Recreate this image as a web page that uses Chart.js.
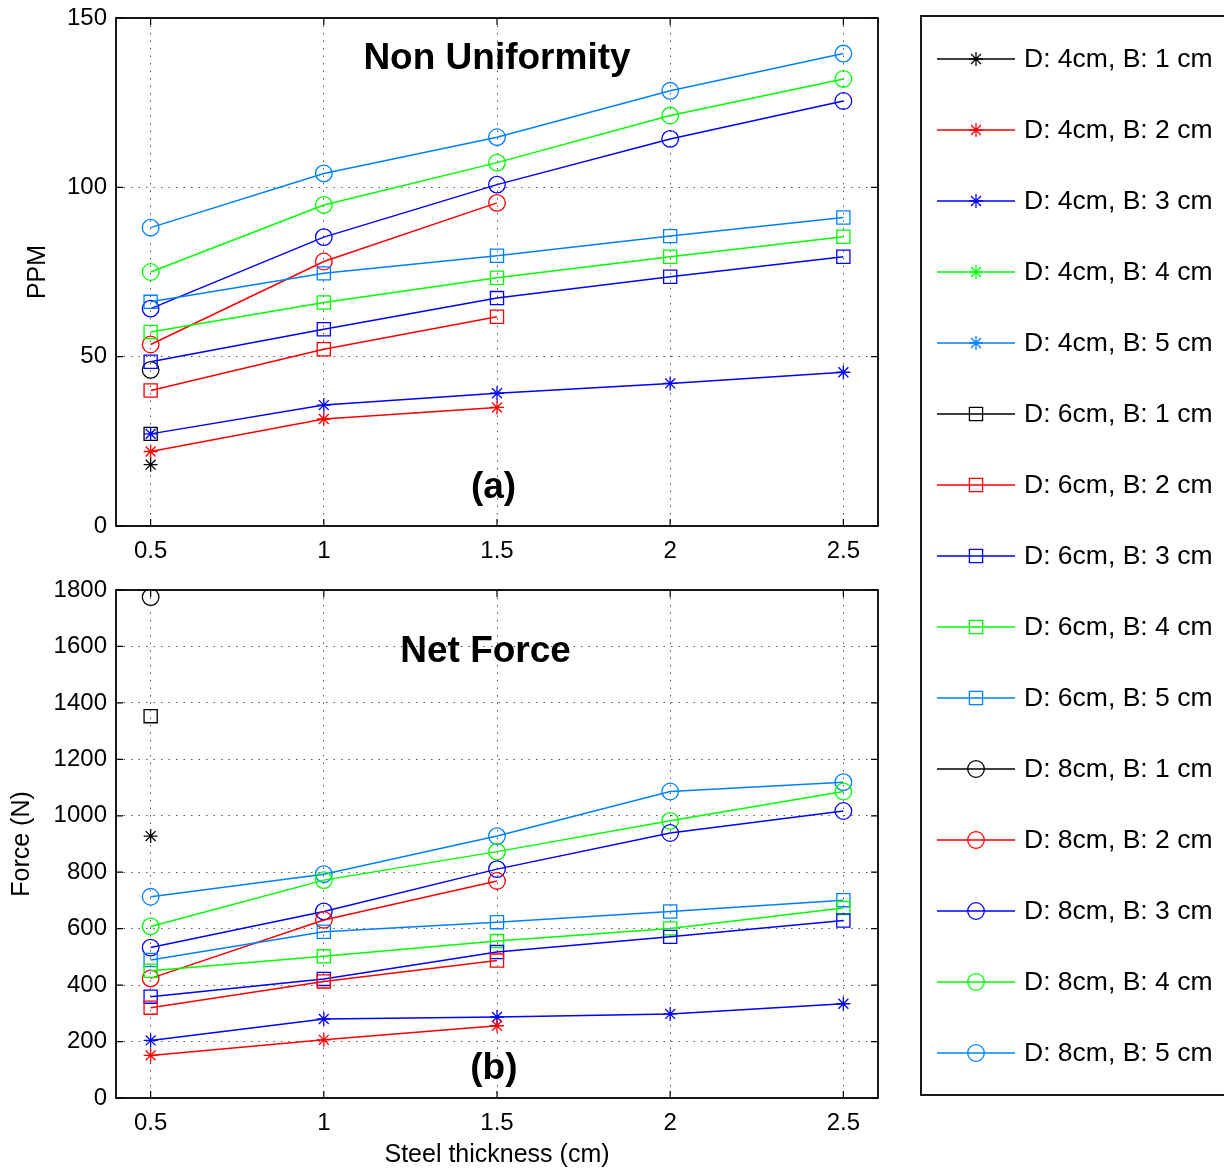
<!DOCTYPE html>
<html>
<head>
<meta charset="utf-8">
<script src="https://cdn.jsdelivr.net/npm/chart.js@4.4.1/dist/chart.umd.min.js"></script>
<style>
  body { margin: 0; background: #fff; width: 1224px; height: 1171px; overflow: hidden; position: relative; }
  canvas { position: absolute; }
</style>
</head>
<body>
<canvas id="ppmChart" width="900" height="570" style="left:0;top:0"></canvas>
<canvas id="forceChart" width="900" height="601" style="left:0;top:570px"></canvas>
<canvas id="legend" width="304" height="1171" style="left:920px;top:0"></canvas>
<script>
// Espesor del acero (cm)
const thickness = [0.5, 1, 1.5, 2, 2.5];

const seriesNames = [
    'D: 4cm, B: 1 cm', 'D: 4cm, B: 2 cm', 'D: 4cm, B: 3 cm', 'D: 4cm, B: 4 cm', 'D: 4cm, B: 5 cm',
    'D: 6cm, B: 1 cm', 'D: 6cm, B: 2 cm', 'D: 6cm, B: 3 cm', 'D: 6cm, B: 4 cm', 'D: 6cm, B: 5 cm',
    'D: 8cm, B: 1 cm', 'D: 8cm, B: 2 cm', 'D: 8cm, B: 3 cm', 'D: 8cm, B: 4 cm', 'D: 8cm, B: 5 cm'
];

// (a) Non uniformity, PPM
const ppmD4B1 = [18.1];
const ppmD4B2 = [22, 31.6, 35];
const ppmD4B3 = [27.2, 35.7, 39.2, 42.1, 45.4];
const ppmD4B4 = [];
const ppmD4B5 = [];
const ppmD6B1 = [27.2];
const ppmD6B2 = [40, 52.2, 61.8];
const ppmD6B3 = [48.5, 58.1, 67.3, 73.6, 79.5];
const ppmD6B4 = [57.3, 66, 73.3, 79.5, 85.4];
const ppmD6B5 = [66.2, 74.6, 79.8, 85.6, 91.1];
const ppmD8B1 = [46.1];
const ppmD8B2 = [53.6, 78.1, 95.4];
const ppmD8B3 = [64.2, 85.3, 100.8, 114.3, 125.5];
const ppmD8B4 = [75, 94.8, 107.3, 121.2, 132];
const ppmD8B5 = [88.1, 104.1, 114.8, 128.5, 139.5];

// (b) Net force, N
const forceD4B1 = [928];
const forceD4B2 = [151, 206, 256];
const forceD4B3 = [204, 280, 287, 298, 334];
const forceD4B4 = [];
const forceD4B5 = [];
const forceD6B1 = [1353];
const forceD6B2 = [320, 413, 487];
const forceD6B3 = [359, 422, 517, 571, 629];
const forceD6B4 = [451, 502, 556, 601, 673];
const forceD6B5 = [489, 589, 623, 661, 701];
const forceD8B1 = [1775];
const forceD8B2 = [424, 631, 769];
const forceD8B3 = [533, 661, 811, 939, 1017];
const forceD8B4 = [608, 772, 873, 982, 1086];
const forceD8B5 = [713, 793, 928, 1086, 1119];

const ppmRows = [ppmD4B1, ppmD4B2, ppmD4B3, ppmD4B4, ppmD4B5, ppmD6B1, ppmD6B2, ppmD6B3, ppmD6B4, ppmD6B5,
    ppmD8B1, ppmD8B2, ppmD8B3, ppmD8B4, ppmD8B5];
const forceRows = [forceD4B1, forceD4B2, forceD4B3, forceD4B4, forceD4B5, forceD6B1, forceD6B2, forceD6B3,
    forceD6B4, forceD6B5, forceD8B1, forceD8B2, forceD8B3, forceD8B4, forceD8B5];

const colors = ['#000000', '#ff0000', '#0000ff', '#00ff00', 'rgb(0,128,255)']; // por B
const markers = ['star', 'rect', 'circle']; // por D
const markerSize = { star: 7, rect: 9.3, circle: 8.3 };

const FONT = '"Liberation Sans", Arial, Helvetica, sans-serif';

function styleOf(i) {
    const marker = markers[Math.floor(i / 5)];
    return { color: colors[i % 5], marker: marker, radius: markerSize[marker] };
}

function makeDatasets(rows) {
    return rows.map((vals, i) => {
        const s = styleOf(i);
        return {
            label: seriesNames[i],
            data: thickness.map((x, j) => ({ x: x, y: vals[j] === undefined ? null : vals[j] })),
            borderColor: s.color,
            backgroundColor: 'rgba(0,0,0,0)',
            borderWidth: 1.5,
            pointStyle: s.marker,
            pointRadius: s.radius,
            pointHoverRadius: s.radius,
            pointBorderWidth: 1.3,
            pointBackgroundColor: 'rgba(0,0,0,0)',
            fill: false,
            tension: 0
        };
    });
}

// Marco de ejes, ticks hacia adentro y textos
const framePlugin = {
    id: 'frame',
    afterDraw(chart, args, opts) {
        const { ctx, chartArea: a, scales: { x, y } } = chart;
        ctx.save();
        ctx.strokeStyle = '#000';
        ctx.lineWidth = 1.2;
        ctx.beginPath();
        x.ticks.forEach(t => {
            const px = x.getPixelForValue(t.value);
            ctx.moveTo(px, a.bottom); ctx.lineTo(px, a.bottom - 7);
            ctx.moveTo(px, a.top); ctx.lineTo(px, a.top + 7);
        });
        y.ticks.forEach(t => {
            const py = y.getPixelForValue(t.value);
            ctx.moveTo(a.left, py); ctx.lineTo(a.left + 7, py);
            ctx.moveTo(a.right, py); ctx.lineTo(a.right - 7, py);
        });
        ctx.stroke();
        ctx.lineWidth = 1.8;
        ctx.strokeRect(a.left, a.top, a.width, a.height);

        ctx.fillStyle = '#000';
        ctx.textAlign = 'center';
        ctx.textBaseline = 'middle';
        (opts.notes || []).forEach(n => {
            ctx.font = 'bold ' + n.size + 'px ' + FONT;
            ctx.fillText(n.text, x.getPixelForValue(n.x), y.getPixelForValue(n.y));
        });
        ctx.restore();
    }
};

function makeChart(canvasId, rows, cfg) {
    return new Chart(document.getElementById(canvasId), {
        type: 'line',
        data: { datasets: makeDatasets(rows) },
        plugins: [framePlugin],
        options: {
            responsive: false,
            animation: false,
            events: [],
            layout: { padding: { top: cfg.padTop, right: 22, left: 0, bottom: 0 } },
            plugins: {
                legend: { display: false },
                tooltip: { enabled: false },
                frame: { notes: cfg.notes }
            },
            scales: {
                x: {
                    type: 'linear',
                    min: 0.4,
                    max: 2.6,
                    afterFit: s => { s.height = cfg.xHeight; s.paddingLeft = 0; s.paddingRight = 0; },
                    ticks: {
                        stepSize: 0.5,
                        includeBounds: false,
                        padding: 11,
                        color: '#000',
                        font: { family: FONT, size: 24 },
                        maxRotation: 0,
                        callback: v => String(v)
                    },
                    grid: { color: '#555', lineWidth: 1, drawTicks: false },
                    border: { display: false, dash: [1.5, 6] },
                    title: {
                        display: !!cfg.xTitle,
                        text: cfg.xTitle,
                        color: '#000',
                        font: { family: FONT, size: 25 },
                        padding: { top: 0, bottom: 1 }
                    }
                },
                y: {
                    min: 0,
                    max: cfg.yMax,
                    afterFit: s => { s.width = 116; s.paddingTop = 0; s.paddingBottom = 0; },
                    ticks: {
                        stepSize: cfg.yStep,
                        padding: 9,
                        color: '#000',
                        font: { family: FONT, size: 24 },
                        callback: v => String(v)
                    },
                    grid: { color: '#555', lineWidth: 1, drawTicks: false },
                    border: { display: false, dash: [1.5, 6] },
                    title: {
                        display: true,
                        text: cfg.yTitle,
                        color: '#000',
                        font: { family: FONT, size: 25 },
                        padding: { top: cfg.yTitlePad, bottom: 0 }
                    }
                }
            }
        }
    });
}

makeChart('ppmChart', ppmRows, {
    padTop: 18, xHeight: 44, yMax: 150, yStep: 50, yTitle: 'PPM', yTitlePad: 23, xTitle: '',
    notes: [{ text: 'Non Uniformity', x: 1.5, y: 138, size: 37 }, { text: '(a)', x: 1.49, y: 11.2, size: 37 }]
});

makeChart('forceChart', forceRows, {
    padTop: 20, xHeight: 73, yMax: 1800, yStep: 200, yTitle: 'Force (N)', yTitlePad: 7,
    xTitle: 'Steel thickness (cm)',
    notes: [{ text: 'Net Force', x: 1.467, y: 1580, size: 37 }, { text: '(b)', x: 1.491, y: 104, size: 37 }]
});

// Leyenda a la derecha, con linea y marcador
function drawMarker(ctx, marker, x, y, r) {
    ctx.beginPath();
    if (marker === 'circle') {
        ctx.arc(x, y, r, 0, Math.PI * 2);
    } else if (marker === 'rect') {
        const h = r * Math.SQRT1_2;
        ctx.rect(x - h, y - h, 2 * h, 2 * h);
    } else {
        const d = r * Math.SQRT1_2;
        ctx.moveTo(x - r, y); ctx.lineTo(x + r, y);
        ctx.moveTo(x, y - r); ctx.lineTo(x, y + r);
        ctx.moveTo(x - d, y - d); ctx.lineTo(x + d, y + d);
        ctx.moveTo(x - d, y + d); ctx.lineTo(x + d, y - d);
    }
    ctx.stroke();
}

function drawLegend() {
    const ctx = document.getElementById('legend').getContext('2d');
    ctx.strokeStyle = '#000';
    ctx.lineWidth = 1.8;
    ctx.strokeRect(1, 16, 330, 1079);
    ctx.font = '26.5px ' + FONT;
    ctx.textBaseline = 'middle';
    ctx.textAlign = 'left';
    seriesNames.forEach((name, i) => {
        const s = styleOf(i);
        const y = 59 + i * 71;
        ctx.strokeStyle = s.color;
        ctx.lineWidth = 1.5;
        ctx.beginPath();
        ctx.moveTo(17, y); ctx.lineTo(95, y);
        ctx.stroke();
        ctx.lineWidth = 1.3;
        drawMarker(ctx, s.marker, 56, y, s.radius);
        ctx.fillStyle = '#000';
        ctx.fillText(name, 104, y + 1);
    });
}

drawLegend();
</script>
</body>
</html>
